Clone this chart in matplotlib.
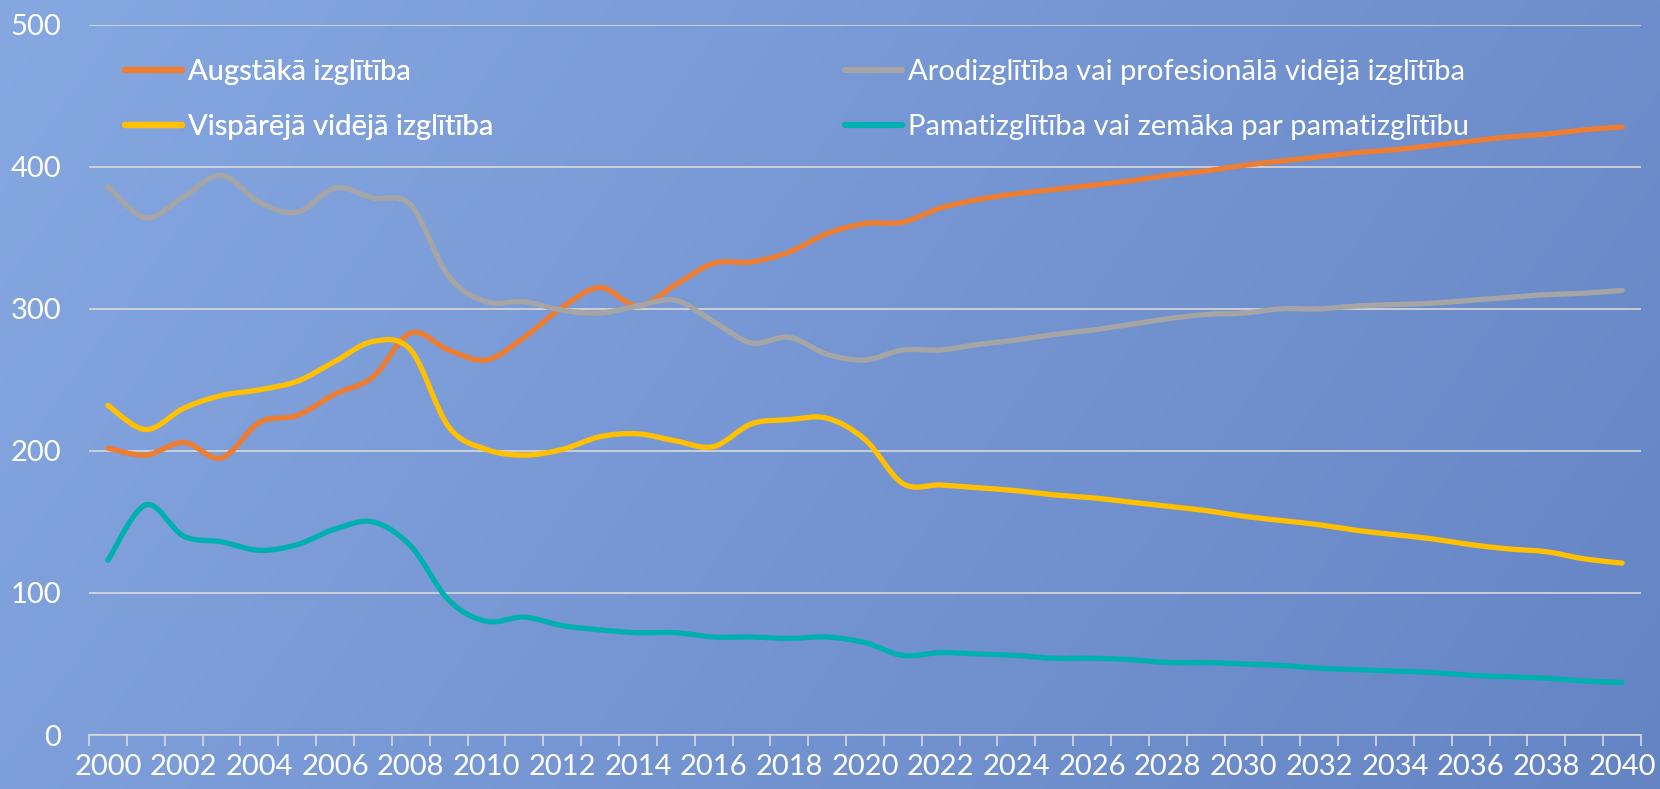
import numpy as np
import matplotlib
matplotlib.use('Agg')
import matplotlib.pyplot as plt
from matplotlib.path import Path
from matplotlib.patches import PathPatch
from matplotlib.lines import Line2D

plt.rcParams['font.family'] = ['Lato', 'DejaVu Sans']

years = list(range(2000, 2041))

augstaka = [202, 197, 206, 195, 220, 225, 240, 252, 283, 271,
            264, 280, 301, 315, 302, 317, 332, 333, 340, 353,
            360, 361, 371, 377, 381, 384, 387, 390, 394, 397,
            401, 404, 407, 410, 412, 415, 418, 421, 423, 426, 428]
arod = [386, 364, 379, 394, 375, 368, 385, 378, 373, 323,
        305, 305, 299, 297, 302, 306, 291, 276, 280, 268,
        264, 271, 271, 275, 278, 282, 285, 289, 293, 296,
        297, 300, 300, 302, 303, 304, 306, 308, 310, 311, 313]
visp = [232, 215, 230, 239, 243, 249, 263, 277, 271, 217,
        201, 197, 201, 210, 212, 207, 203, 219, 222, 223,
        208, 177, 176, 174, 172, 169, 167, 164, 161, 158,
        154, 151, 148, 144, 141, 138, 134, 131, 129, 124, 121]
pamat = [123, 162, 140, 136, 130, 134, 145, 150, 133, 95,
         80, 83, 77, 74, 72, 72, 69, 69, 68, 69,
         65, 56, 58, 57, 56, 54, 54, 53, 51, 51,
         50, 49, 47, 46, 45, 44, 42, 41, 40, 38, 37]

series = [augstaka, arod, visp, pamat]
labels = ['Augstākā izglītība',
          'Arodizglītība vai profesionālā vidējā izglītība',
          'Vispārējā vidējā izglītība',
          'Pamatizglītība vai zemāka par pamatizglītību']
colors = ['#ED7D31', '#A5A5A5', '#FFC000', '#00AFB0']
tick_years = list(range(2000, 2041, 2))


def smooth_path(x, y):
    # smoothed line like excel: bezier segments through every point
    n = len(x)
    verts = [(x[0], y[0])]
    codes = [Path.MOVETO]
    for i in range(n - 1):
        xa, ya = (x[i - 1], y[i - 1]) if i > 0 else (x[i], y[i])
        xd, yd = (x[i + 2], y[i + 2]) if i + 2 < n else (x[i + 1], y[i + 1])
        c1 = (x[i] + (x[i + 1] - xa) / 6, y[i] + (y[i + 1] - ya) / 6)
        c2 = (x[i + 1] - (xd - x[i]) / 6, y[i + 1] - (yd - y[i]) / 6)
        verts += [c1, c2, (x[i + 1], y[i + 1])]
        codes += [Path.CURVE4] * 3
    return Path(verts, codes)


fig = plt.figure(figsize=(16.6, 7.89), dpi=100)

# gradient background
bg = fig.add_axes([0, 0, 1, 1], zorder=-10)
gx, gy = np.meshgrid(np.linspace(0, 1, 400), np.linspace(0, 1, 200))
t = (gx * 0.75 + gy * 0.25)
c_start = np.array([134, 168, 225]) / 255
c_end = np.array([101, 132, 196]) / 255
img = c_start[None, None, :] * (1 - t[..., None]) + c_end[None, None, :] * t[..., None]
bg.imshow(img, aspect='auto', extent=[0, 1, 0, 1], origin='upper')
bg.axis('off')

ax = fig.add_axes([89 / 1660, 54 / 789, 1552 / 1660, 710.3 / 789])
ax.set_facecolor('none')

for vals, col in zip(series, colors):
    p = PathPatch(smooth_path(years, vals), fill=False, edgecolor=col,
                  lw=3.8, capstyle='round', joinstyle='round', zorder=3)
    ax.add_patch(p)

ax.set_xlim(1999.5, 2040.5)
ax.set_ylim(0, 500)
ax.set_yticks([0, 100, 200, 300, 400, 500])
ax.grid(axis='y', color='#D9D9D9', lw=1.2)
ax.set_axisbelow(True)
for s in ['top', 'right', 'left']:
    ax.spines[s].set_visible(False)
ax.spines['bottom'].set_color('#D9D9D9')
ax.spines['bottom'].set_linewidth(1.2)

ax.set_xticks(tick_years)
ax.set_xticks(np.arange(1999.5, 2041, 1), minor=True)
ax.tick_params(axis='x', which='major', length=0, pad=13.5, labelsize=21, labelcolor='white')
ax.tick_params(axis='x', which='minor', length=8, width=1.2, color='#D9D9D9')
ax.tick_params(axis='y', length=0, pad=20, labelsize=21, labelcolor='white')

handles = [Line2D([], [], color=c, lw=4.5, solid_capstyle='round') for c in colors]
leg_kw = dict(loc='upper left', frameon=False, fontsize=21, labelcolor='white',
              handlelength=1.95, handletextpad=0.2, labelspacing=1.0,
              borderpad=0, borderaxespad=0)
leg1 = fig.legend([handles[0], handles[2]], [labels[0], labels[2]],
                  bbox_to_anchor=(125 / 1660, 1 - 59 / 789), **leg_kw)
leg2 = fig.legend([handles[1], handles[3]], [labels[1], labels[3]],
                  bbox_to_anchor=(845 / 1660, 1 - 59 / 789), **leg_kw)
fig.add_artist(leg1)

fig.savefig('out.png', dpi=100)
